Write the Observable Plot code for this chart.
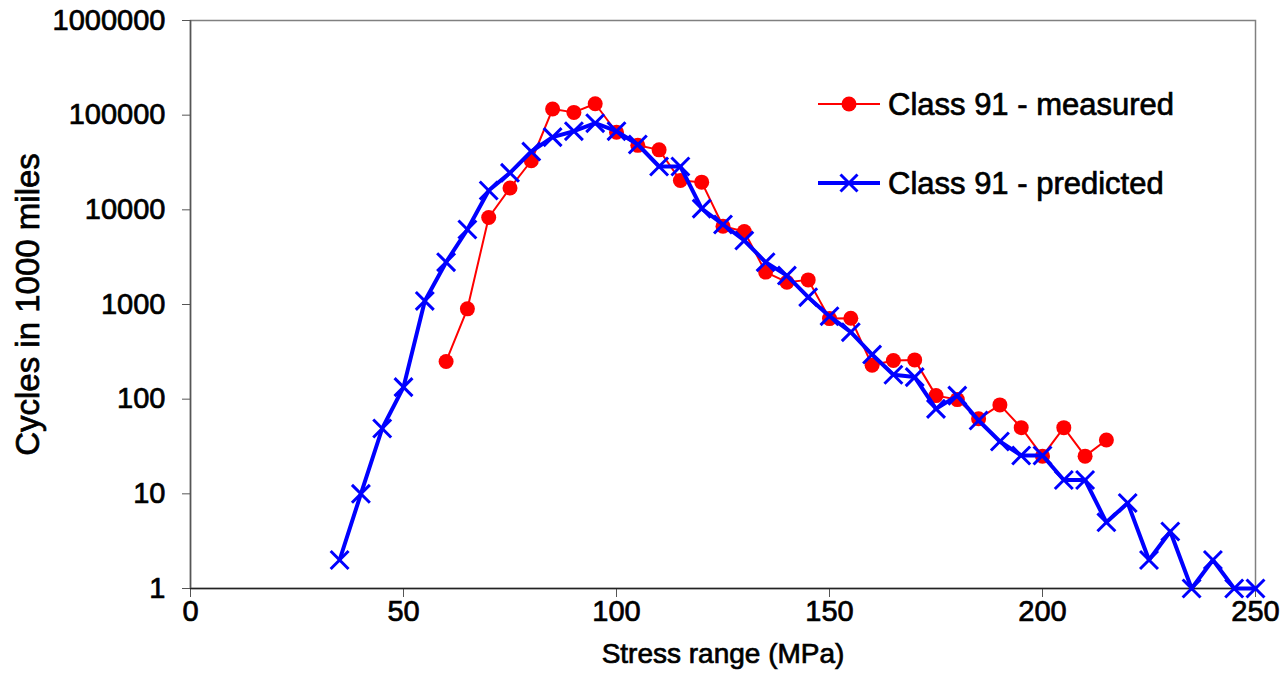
<!DOCTYPE html>
<html>
<head>
<meta charset="utf-8">
<script src="https://cdn.jsdelivr.net/npm/d3@7"></script>
<script src="https://cdn.jsdelivr.net/npm/@observablehq/plot@0.6"></script>
<style>
  html, body { margin: 0; padding: 0; background: #fff; }
  #chart { width: 1281px; height: 699px; }
  /* slightly heavier glyphs for all chart text */
  #chart svg text { stroke: #000; stroke-width: 0.7px; paint-order: stroke; }
</style>
</head>
<body>
<div id="chart"></div>
<script>
// Stress range (MPa) at which each series was evaluated
const stressMeasured = [60, 65, 70, 75, 80, 85, 90, 95, 100, 105, 110, 115, 120, 125, 130, 135,
  140, 145, 150, 155, 160, 165, 170, 175, 180, 185, 190, 195, 200, 205, 210, 215];
const cyclesMeasured = [250, 900, 8300, 17000, 33000, 116000, 107000, 132000, 66000, 48000, 43000, 20400,
  19600, 6700, 5900, 2200, 1720, 1820, 710, 715, 228, 256, 260, 109, 99, 62, 87, 50, 25, 50, 25, 37];

const stressPredicted = [35, 40, 45, 50, 55, 60, 65, 70, 75, 80, 85, 90, 95, 100, 105, 110, 115, 120,
  125, 130, 135, 140, 145, 150, 155, 160, 165, 170, 175, 180, 185, 190, 195, 200, 205, 210, 215, 220,
  225, 230, 235, 240, 245, 250];
const cyclesPredicted = [2, 10, 49, 134, 1090, 2800, 6200, 16000, 24600, 41300, 58600, 67700, 82200, 67700,
  49000, 28700, 28700, 10300, 7000, 4740, 2800, 2020, 1195, 753, 510, 296, 181, 171, 79, 109, 59.5, 35.7,
  25.4, 25.4, 14, 14, 5, 8, 2, 4, 1, 2, 1, 1];

const xTicks = [0, 50, 100, 150, 200, 250];
const yTicks = [1, 10, 100, 1000, 10000, 100000, 1000000];

const seriesNames = ["Class 91 - measured", "Class 91 - predicted"];
const xLabel = "Stress range (MPa)";
const yLabel = "Cycles in 1000 miles";

const measured = stressMeasured.map((s, i) => ({stress: s, cycles: cyclesMeasured[i]}));
const predicted = stressPredicted.map((s, i) => ({stress: s, cycles: cyclesPredicted[i]}));

const font = "'Liberation Sans', Arial, Helvetica, sans-serif";

const chart = Plot.plot({
  width: 1281,
  height: 699,
  marginLeft: 190,
  marginRight: 26,
  marginTop: 20,
  marginBottom: 111,
  style: {fontFamily: font, fontWeight: "normal", background: "#fff", color: "#000", overflow: "visible"},
  x: {domain: [0, 250]},
  y: {type: "log", domain: [1, 1e6]},
  marks: [
    Plot.frame({stroke: "#808080", strokeWidth: 1.5}),
    Plot.axisX({ticks: xTicks, tickSize: 9, tickPadding: 3, fontSize: 29, label: null, stroke: "#555"}),
    Plot.axisY({ticks: yTicks, tickSize: 8, tickPadding: 17, fontSize: 29, label: null, stroke: "#555",
      tickFormat: d3.format("d")}),
    Plot.ruleY([1], {stroke: "#222", strokeWidth: 1.5}),
    Plot.ruleX([0], {stroke: "#555", strokeWidth: 1.5}),
    // measured series: thin red line with filled circles
    Plot.line(measured, {x: "stress", y: "cycles", stroke: "#ff0000", strokeWidth: 2}),
    Plot.dot(measured, {x: "stress", y: "cycles", fill: "#ff0000", r: 7.5}),
    // predicted series: heavy blue line with crosses
    Plot.line(predicted, {x: "stress", y: "cycles", stroke: "#0000ff", strokeWidth: 4}),
    Plot.dot(predicted, {x: "stress", y: "cycles", symbol: "times", r: 8.2, stroke: "#0000ff", strokeWidth: 3}),
    // axis titles
    Plot.text([xLabel], {text: d => d, frameAnchor: "bottom", dy: 66, fontSize: 28,
      textAnchor: "middle", lineAnchor: "middle"}),
    Plot.text([yLabel], {text: d => d, frameAnchor: "left", dx: -162, rotate: -90, fontSize: 33,
      textAnchor: "middle", lineAnchor: "middle"})
  ]
});

// Legend in the upper right of the plot area
const legendItems = [
  {name: seriesNames[0], color: "#ff0000", symbol: "circle", y: 104},
  {name: seriesNames[1], color: "#0000ff", symbol: "times", y: 183}
];
const legendX0 = 818, legendX1 = 880, legendTextX = 888;
const svg = d3.select(chart);
const g = svg.append("g")
  .attr("font-family", font)
  .attr("font-size", 31)
  .attr("text-anchor", "start");
for (const item of legendItems) {
  const row = g.append("g");
  const w = item.symbol === "circle" ? 2 : 4;
  row.append("line")
    .attr("x1", legendX0).attr("x2", legendX1)
    .attr("y1", item.y).attr("y2", item.y)
    .attr("stroke", item.color).attr("stroke-width", w);
  const cx = (legendX0 + legendX1) / 2;
  if (item.symbol === "circle") {
    row.append("circle").attr("cx", cx).attr("cy", item.y).attr("r", 7.5).attr("fill", item.color);
  } else {
    const r = 8.5;
    row.append("path")
      .attr("d", `M${cx - r},${item.y - r}L${cx + r},${item.y + r}M${cx - r},${item.y + r}L${cx + r},${item.y - r}`)
      .attr("stroke", item.color).attr("stroke-width", 3).attr("fill", "none");
  }
  row.append("text")
    .attr("x", legendTextX).attr("y", item.y)
    .attr("dy", "0.36em")
    .attr("fill", "#000")
    .text(item.name);
}

document.getElementById("chart").appendChild(chart);
</script>
</body>
</html>
